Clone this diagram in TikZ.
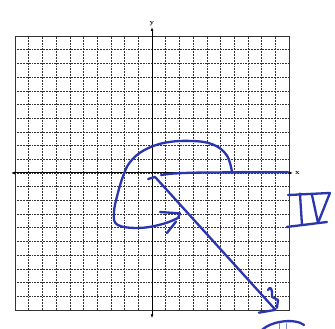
\documentclass[tikz,border=0pt]{standalone}
\usepackage{tikz}
\usetikzlibrary{arrows.meta, positioning, calc}
\definecolor{inkblue}{HTML}{2A36B0}
\definecolor{paperline}{HTML}{333333}

\begin{document}
\begin{tikzpicture}[
  x=0.5cm, y=0.5cm,
  gridline/.style={paperline, line width=0.6pt, densely dotted},
  axisline/.style={black, line width=1pt, {Latex[length=4pt,width=3pt]}-{Latex[length=4pt,width=3pt]}},
  axislabel/.style={font=\scriptsize\bfseries, inner sep=1pt},
  ink/.style={inkblue, line width=2.4pt, line cap=round, line join=round},
  faintink/.style={inkblue!60, line width=1pt, line cap=round}
]
\useasboundingbox (-11.1,-11.39) rectangle (13.36,12.63);
\draw[gridline, step=1] (-10,-10) grid (10,10);
\draw[paperline, line width=0.5pt] (-10,-10) rectangle (10,10);
\coordinate (O) at (0,0);
\coordinate (xleft) at (-10.3,0);
\coordinate (xright) at (10.3,0);
\coordinate (ydown) at (0,-10.6);
\coordinate (yup) at (0,10.65);
\draw[axisline] (xleft) -- (xright);
\draw[axisline] (ydown) -- (yup);
\node[axislabel, right=1pt of xright] (xlab) {x};
\node[axislabel, above=0pt of yup] (ylab) {y};

\draw[ink] (0.66,-0.15) .. controls (2,0.1) and (5,0.02) .. (9.93,0.06);
\draw[ink] (-0.29,-0.44) -- (0.22,-0.29) -- (9.02,-10.0);
\draw[ink] plot[smooth, tension=0.65] coordinates {(5.84,0.07) (5.45,1.3) (4.4,2.1) (2.77,2.34) (0.9,2.2) (-0.6,1.65) (-1.6,0.8) (-2.1,-0.2) (-2.5,-1.5) (-2.78,-2.92) (-2.5,-3.8) (-0.88,-4.01) (0.8,-3.72) (1.9,-3.28)};
\draw[ink] (0.58,-2.85) -- (2.04,-2.95) -- (1.9,-3.28);
\draw[ink] (1.09,-4.38) -- (1.75,-3.55);

\draw[ink] (7.8,-10.2) -- (8.98,-10.0);
\draw[ink] (8.47,-8.54) .. controls (8.6,-8.3) and (8.8,-8.3) .. (8.76,-9.05) -- (9.2,-9.27) -- (9.12,-9.85);

\draw[ink] (9.93,-1.61) -- (12.99,-1.46);
\draw[ink] (10.8,-1.5) -- (10.95,-3.8);
\draw[ink] (11.68,-1.6) -- (12.12,-3.65) -- (12.99,-1.46);
\draw[ink] (9.85,-3.94) -- (12.77,-3.58);

\draw[ink] (7.9,-11.6) .. controls (8.6,-10.75) and (10.5,-10.6) .. (11.1,-11.1);
\draw[faintink] (9.3,-11.0) -- (9.3,-11.5);
\draw[faintink] (9.8,-11.0) -- (9.8,-11.5);
\end{tikzpicture}
\end{document}
